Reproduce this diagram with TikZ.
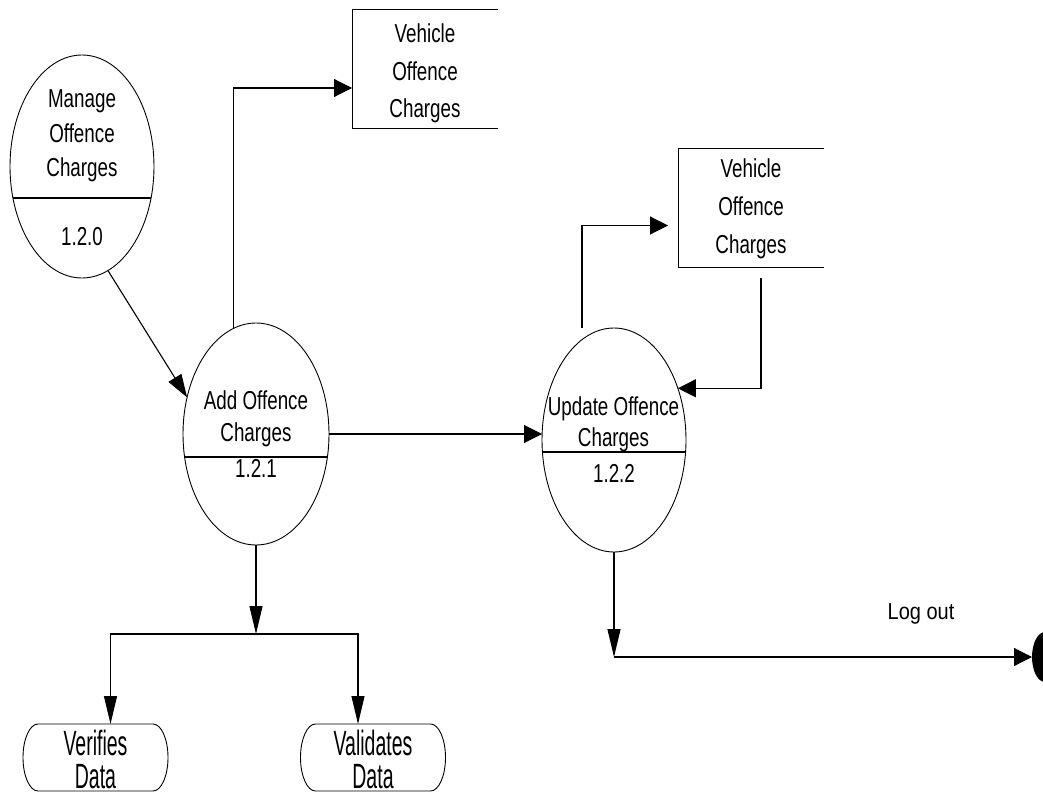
\documentclass[tikz,border=0pt]{standalone}
\usepackage{fontspec}
\usepackage{graphicx}
\setmainfont{Liberation Sans}
\usetikzlibrary{arrows.meta,shapes.geometric}
% centred lines of text, stretched vertically: #1 = vertical factor, #2 = line pitch (pt), #3 = lines
\newcommand\tallstack[3]{\scalebox{1}[#1]{\vbox{\baselineskip=#2pt\lineskiplimit=-\maxdimen\let\\\cr\halign{\hfil##\hfil\cr#3\crcr}}}}
\begin{document}
\begin{tikzpicture}[x=1pt,y=-1pt,
  every node/.style={inner sep=0pt,outer sep=0pt},
  proc/.style={ellipse,draw,line width=0.9pt},
  chord/.style={path picture={\draw[line width=1.3pt]
      ([yshift=-#1]path picture bounding box.west) -- ([yshift=-#1]path picture bounding box.east);}},
  txt/.style={anchor=base,font=\fontsize{18.8}{22}\selectfont},
  termtxt/.style={anchor=base,font=\fontsize{19.5}{22}\selectfont},
  shape line/.style={line width=0.9pt},
  flow/.style={line width=1.1pt},
  vtip/.style={flow,-{Triangle[length=28pt,width=13pt]}},
  htip/.style={flow,-{Triangle[length=18pt,width=18pt]}},
  dtip/.style={flow,-{Triangle[length=23pt,width=15pt]}},
]
\useasboundingbox (0,0) rectangle (1043,794);

% processes
\node[proc,chord=31.5pt,minimum width=144pt,minimum height=223pt] (m) at (82,166.5) {};
\node[proc,chord=23pt,minimum width=146pt,minimum height=222pt] (a) at (256,434) {};
\node[proc,chord=12pt,minimum width=144pt,minimum height=224pt] (u) at (614,440) {};

\node[txt] (mt) at (82,177) {\tallstack{1.38}{25}{Manage\\Offence\\Charges}};
\node[txt] (mn) at (82,245) {\tallstack{1.38}{22}{1.2.0}};
\node[txt] (at) at (256,441) {\tallstack{1.38}{22.5}{Add Offence\\Charges}};
\node[txt] (an) at (256,477) {\tallstack{1.38}{22}{1.2.1}};
\node[txt] (ut) at (613.5,446.5) {\tallstack{1.38}{22.5}{Update Offence\\Charges}};
\node[txt] (un) at (614,482) {\tallstack{1.38}{22}{1.2.2}};

% data stores (open on the right)
\node[minimum width=146pt,minimum height=119pt] (b1) at (425,68.5) {};
\node[minimum width=146pt,minimum height=119pt] (b2) at (751,207.5) {};
\foreach \b in {b1,b2}
  \draw[shape line] (\b.north east) -- (\b.north west) -- (\b.south west) -- (\b.south east);
\node[txt] (b1t) at (425,118) {\tallstack{1.38}{27.2}{Vehicle\\Offence\\Charges}};
\node[txt] (b2t) at (751,253) {\tallstack{1.38}{27.2}{Vehicle\\Offence\\Charges}};

% terminators
\node[minimum width=145pt,minimum height=67pt] (v1) at (95.5,757.5) {};
\node[minimum width=145pt,minimum height=67pt] (v2) at (373,757.5) {};
\foreach \t in {v1,v2}
  \draw[shape line] ([xshift=15pt]\t.north west) -- ([xshift=-15pt]\t.north east)
    arc[start angle=90,end angle=-90,x radius=15pt,y radius=33.5pt]
    -- ([xshift=15pt]\t.south west)
    arc[start angle=270,end angle=90,x radius=15pt,y radius=33.5pt] -- cycle;
\node[termtxt] (v1t) at (95.5,788) {\tallstack{1.8}{18.3}{Verifies\\Data}};
\node[termtxt] (v2t) at (373,788) {\tallstack{1.8}{18.3}{Validates\\Data}};

% end point
\node[ellipse,fill=black,minimum width=26pt,minimum height=50pt] (end) at (1045,657) {};
\node[anchor=base,font=\fontsize{20}{22}\selectfont] (lo) at (921,619) {\tallstack{1.15}{22}{Log out}};

% junctions
\coordinate (j) at (256,634);
\coordinate (k) at (614,657);

% flows
\draw[dtip] (m.-76) -- (a.152);
\draw[htip] (a.102) |- ([yshift=-19.5pt]b1.west);
\draw[htip] (a.east) -- (a.east -| u.west);
\draw[htip] ([xshift=-32pt]u.north) |- ([shift={(-10pt,-18pt)}]b2.west);
\draw[htip] ([shift={(10pt,-11pt)}]b2.south) |- (u.39);
\draw[vtip] (a.south) -- (j);
\draw[vtip] (j) -| ([xshift=15pt]v1.north);
\draw[vtip] (j) -| ([xshift=-15pt]v2.north);
\draw[vtip] (u.south) -- (k);
\draw[htip] (k) -- (end.west);
\end{tikzpicture}
\end{document}
